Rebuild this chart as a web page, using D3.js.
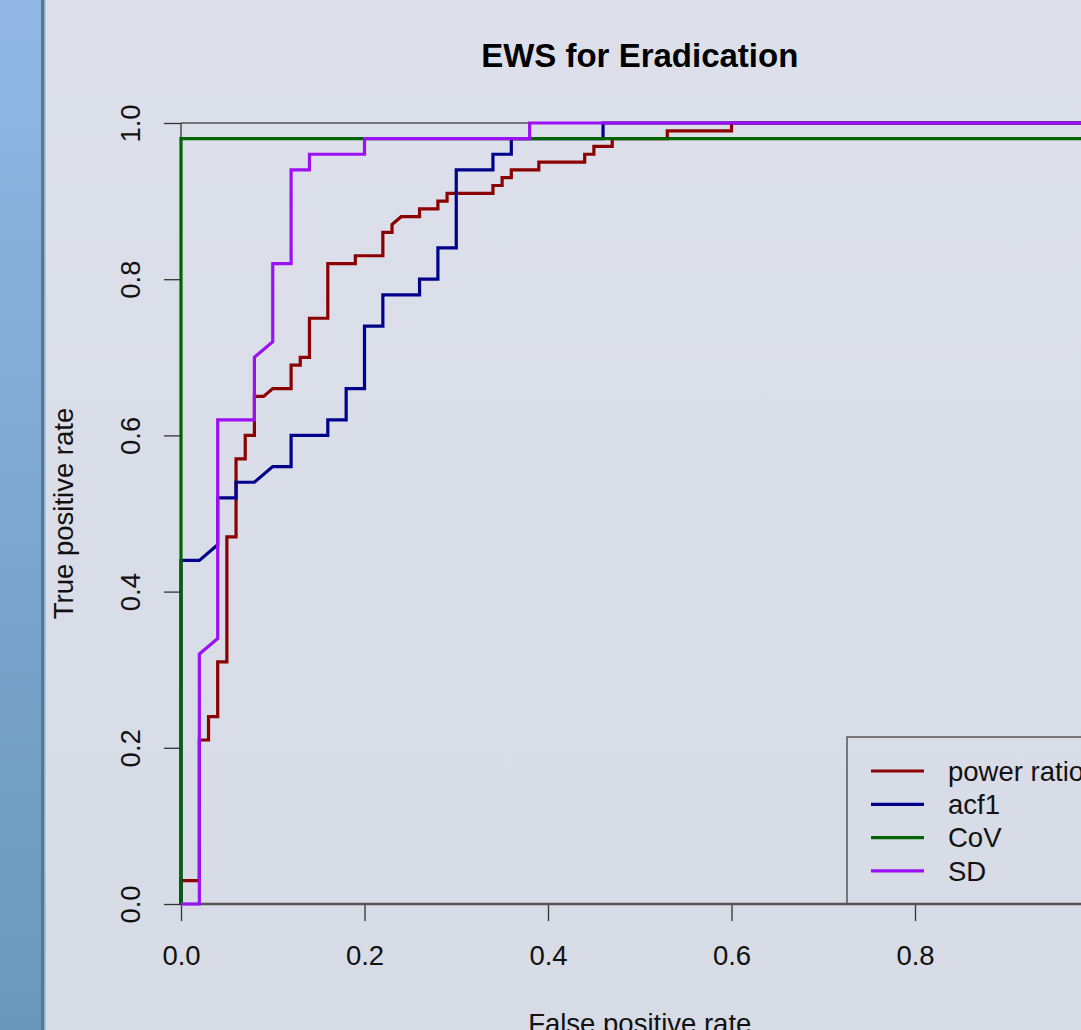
<!DOCTYPE html>
<html>
<head>
<meta charset="utf-8">
<style>
  body { margin: 0; background: #dcdfe8; }
  svg { display: block; font-family: "Liberation Sans", Arial, sans-serif; }
</style>
</head>
<body>
<svg></svg>
<script src="https://cdnjs.cloudflare.com/ajax/libs/d3/7.8.5/d3.min.js"></script>
<script>
// ROC curves (false positive rate, true positive rate)
let powerFpr = [0, 0, 0.02, 0.02, 0.03, 0.03, 0.04, 0.04, 0.05, 0.05, 0.06, 0.06, 0.07, 0.07, 0.08, 0.08, 0.09, 0.10, 0.12, 0.12, 0.13, 0.13, 0.14, 0.14, 0.16, 0.16, 0.19, 0.19, 0.22, 0.22, 0.23, 0.23, 0.24, 0.26, 0.26, 0.28, 0.28, 0.29, 0.29, 0.34, 0.34, 0.35, 0.35, 0.36, 0.36, 0.39, 0.39, 0.44, 0.44, 0.45, 0.45, 0.47, 0.47, 0.53, 0.53, 0.60, 0.60, 1];
let powerTpr = [0, 0.03, 0.03, 0.21, 0.21, 0.24, 0.24, 0.31, 0.31, 0.47, 0.47, 0.57, 0.57, 0.60, 0.60, 0.65, 0.65, 0.66, 0.66, 0.69, 0.69, 0.70, 0.70, 0.75, 0.75, 0.82, 0.82, 0.83, 0.83, 0.86, 0.86, 0.87, 0.88, 0.88, 0.89, 0.89, 0.90, 0.90, 0.91, 0.91, 0.92, 0.92, 0.93, 0.93, 0.94, 0.94, 0.95, 0.95, 0.96, 0.96, 0.97, 0.97, 0.98, 0.98, 0.99, 0.99, 1, 1];

let acfFpr = [0, 0, 0.02, 0.04, 0.04, 0.06, 0.06, 0.08, 0.10, 0.12, 0.12, 0.16, 0.16, 0.18, 0.18, 0.20, 0.20, 0.22, 0.22, 0.26, 0.26, 0.28, 0.28, 0.30, 0.30, 0.34, 0.34, 0.36, 0.36, 0.46, 0.46, 1];
let acfTpr = [0, 0.44, 0.44, 0.46, 0.52, 0.52, 0.54, 0.54, 0.56, 0.56, 0.60, 0.60, 0.62, 0.62, 0.66, 0.66, 0.74, 0.74, 0.78, 0.78, 0.80, 0.80, 0.84, 0.84, 0.94, 0.94, 0.96, 0.96, 0.98, 0.98, 1, 1];

let covFpr = [0, 0, 1, 1];
let covTpr = [0, 0.98, 0.98, 1];

let sdFpr = [0, 0.02, 0.02, 0.04, 0.04, 0.08, 0.08, 0.10, 0.10, 0.12, 0.12, 0.14, 0.14, 0.20, 0.20, 0.38, 0.38, 1];
let sdTpr = [0, 0, 0.32, 0.34, 0.62, 0.62, 0.70, 0.72, 0.82, 0.82, 0.94, 0.94, 0.96, 0.96, 0.98, 0.98, 1, 1];

let seriesNames = ["power ratio", "acf1", "CoV", "SD"];
let seriesColors = ["#8b0000", "#00008b", "#006400", "#9b10f5"];
let ticks = [0, 0.2, 0.4, 0.6, 0.8, 1.0];

let width = 1081,
    height = 1030;

let svg = d3.select("svg").attr("width", width).attr("height", height);

// page background and the blue strip on the left
let defs = svg.append("defs");
let bg = defs.append("linearGradient").attr("id", "bg").attr("x1", 0).attr("y1", 0).attr("x2", 0).attr("y2", 1);
bg.append("stop").attr("offset", "0%").attr("stop-color", "#dde0ea");
bg.append("stop").attr("offset", "100%").attr("stop-color", "#d7dbe5");
let strip = defs.append("linearGradient").attr("id", "strip").attr("x1", 0).attr("y1", 0).attr("x2", 0).attr("y2", 1);
strip.append("stop").attr("offset", "0%").attr("stop-color", "#92b7e5");
strip.append("stop").attr("offset", "100%").attr("stop-color", "#6a97ba");

svg.append("rect").attr("width", width).attr("height", height).attr("fill", "url(#bg)");
svg.append("rect").attr("width", 41).attr("height", height).attr("fill", "url(#strip)");
svg.append("rect").attr("x", 41).attr("width", 3).attr("height", height).attr("fill", "#4c7c9a");
svg.append("rect").attr("x", 44).attr("width", 1.5).attr("height", height).attr("fill", "#8eaec6");

let x = d3.scaleLinear().domain([0, 1]).range([181, 1098.5]);
let y = d3.scaleLinear().domain([0, 1]).range([904, 123]);

let fontSize = 27.5;

// x axis
let xAxis = svg.append("g")
    .attr("transform", "translate(0," + y(0) + ")")
    .call(d3.axisBottom(x).tickValues(ticks).tickSize(17).tickPadding(24).tickFormat(d3.format(".1f")));
xAxis.select(".domain").remove();
xAxis.selectAll(".tick line").attr("stroke", "#333").attr("stroke-width", 1.3);
xAxis.selectAll(".tick text").attr("fill", "#111").style("font-size", fontSize + "px")
    .style("font-family", "Liberation Sans, Arial, sans-serif");

// y axis with labels turned like base R
let yAxis = svg.append("g")
    .attr("transform", "translate(" + x(0) + ",0)")
    .call(d3.axisLeft(y).tickValues(ticks).tickSize(17).tickFormat(d3.format(".1f")));
yAxis.select(".domain").remove();
yAxis.selectAll(".tick line").attr("stroke", "#333").attr("stroke-width", 1.3);
yAxis.selectAll(".tick text")
    .attr("x", null).attr("dy", null)
    .attr("text-anchor", "middle")
    .attr("transform", "translate(-41,0) rotate(-90)")
    .attr("fill", "#111").style("font-size", fontSize + "px")
    .style("font-family", "Liberation Sans, Arial, sans-serif");

// axis lines
svg.append("line").attr("x1", x(0)).attr("x2", width).attr("y1", y(0)).attr("y2", y(0))
    .attr("stroke", "#555").attr("stroke-width", 2.5);
svg.append("line").attr("x1", x(0)).attr("x2", width).attr("y1", y(1)).attr("y2", y(1))
    .attr("stroke", "#555").attr("stroke-width", 1.3);
svg.append("line").attr("x1", x(0)).attr("x2", x(0)).attr("y1", y(0)).attr("y2", y(1))
    .attr("stroke", "#333").attr("stroke-width", 1.3);

// curves
let curves = [
    [powerFpr, powerTpr],
    [acfFpr, acfTpr],
    [covFpr, covTpr],
    [sdFpr, sdTpr]
];

let line = d3.line().x(d => x(d[0])).y(d => y(d[1]));

svg.append("g").selectAll("path")
    .data(curves)
    .enter()
    .append("path")
    .attr("d", d => line(d3.zip(d[0], d[1])))
    .attr("fill", "none")
    .attr("stroke", (d, i) => seriesColors[i])
    .attr("stroke-width", 3.2)
    .attr("stroke-linejoin", "miter");

// titles
svg.append("text")
    .attr("x", x(0.5)).attr("y", 67)
    .attr("text-anchor", "middle")
    .style("font-size", "33px").style("font-weight", "bold")
    .attr("fill", "#000")
    .text("EWS for Eradication");

svg.append("text")
    .attr("x", x(0.5)).attr("y", 1033)
    .attr("text-anchor", "middle")
    .style("font-size", fontSize + "px")
    .attr("fill", "#111")
    .text("False positive rate");

svg.append("text")
    .attr("transform", "translate(73," + y(0.5) + ") rotate(-90)")
    .attr("text-anchor", "middle")
    .style("font-size", fontSize + "px")
    .attr("fill", "#111")
    .text("True positive rate");

// legend
let legend = svg.append("g").attr("transform", "translate(847,737)");
legend.append("rect")
    .attr("width", 300).attr("height", 167)
    .attr("fill", "none").attr("stroke", "#555").attr("stroke-width", 1.5);

let items = legend.selectAll("g.item")
    .data(seriesNames)
    .enter()
    .append("g")
    .attr("class", "item")
    .attr("transform", (d, i) => "translate(0," + (34 + i * 33.3) + ")");

items.append("line")
    .attr("x1", 24).attr("x2", 77)
    .attr("stroke", (d, i) => seriesColors[i])
    .attr("stroke-width", 3.2);

items.append("text")
    .attr("x", 101).attr("dy", "0.35em")
    .style("font-size", fontSize + "px")
    .attr("fill", "#111")
    .text(d => d);
</script>
</body>
</html>
